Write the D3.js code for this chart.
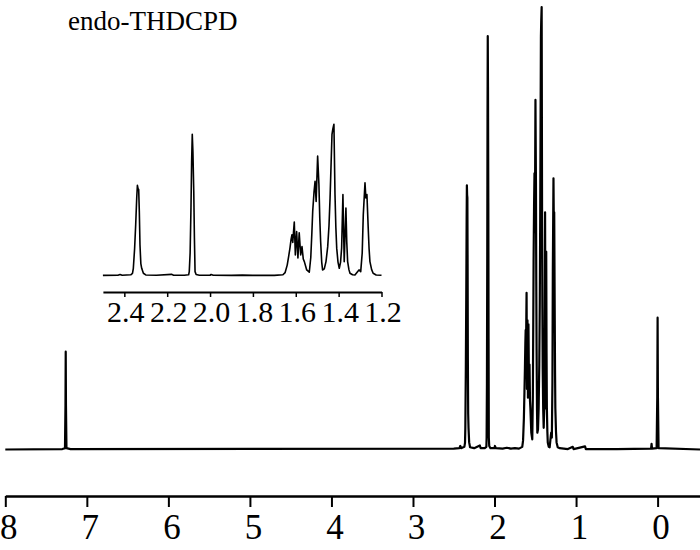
<!DOCTYPE html>
<html>
<head>
<meta charset="utf-8">
<script src="https://cdn.jsdelivr.net/npm/d3@7"></script>
<style>
  body { margin: 0; background: #fff; }
  svg { display: block; }
  .tick line { stroke: #000; }
</style>
</head>
<body>
<div id="chart"></div>
<script>
// chemical shift (ppm) and intensity (% of tallest peak)
var shift = [
  8.0, 7.30, 7.268, 7.262, 7.259, 7.256, 7.25, 7.2,
  2.50, 2.43, 2.42, 2.41, 2.37, 2.362, 2.358, 2.352, 2.347, 2.342, 2.339, 2.336,
  2.333, 2.330, 2.327, 2.323, 2.319, 2.311, 2.30, 2.25, 2.18, 2.17, 2.12, 2.10,
  2.097, 2.093, 2.089, 2.086, 2.083, 2.080, 2.076, 2.073, 2.070, 2.065, 2.05,
  2.0, 1.995, 1.985, 1.9, 1.85, 1.8, 1.75, 1.7, 1.66, 1.65, 1.64, 1.633, 1.627,
  1.622, 1.618, 1.614, 1.610, 1.607, 1.602, 1.596, 1.59, 1.584, 1.577, 1.571,
  1.565, 1.56, 1.549, 1.537, 1.530, 1.525, 1.521, 1.515, 1.51, 1.505, 1.498,
  1.492, 1.488, 1.484, 1.479, 1.475, 1.467, 1.459, 1.451, 1.445, 1.44, 1.435,
  1.431, 1.427, 1.422, 1.417, 1.413, 1.409, 1.403, 1.397, 1.391, 1.386, 1.38,
  1.374, 1.366, 1.362, 1.358, 1.352, 1.347, 1.335, 1.324, 1.31, 1.305, 1.297,
  1.29, 1.285, 1.277, 1.273, 1.268, 1.262, 1.258, 1.254, 1.246, 1.239, 1.225,
  1.20, 1.15, 1.10, 1.04, 1.03, 0.89, 0.88, 0.5, 0.08, 0.074, 0.068, 0.012,
  0.004, 0.0, -0.004, -0.012, -0.52
];
var intensity = [
  0, 0.1, 0.3, 10, 22.1, 10, 0.3, 0.1,
  0.2, 0.3, 0.8, 0.3, 0.6, 1.5, 4.9, 18, 33.6, 52, 59.7, 57.5,
  56.9, 42, 20.4, 8, 4.9, 1.6, 0.5, 0.3, 0.9, 0.3, 0.3, 0.6,
  2.7, 15, 44.9, 75, 93.4, 82, 55.7, 25, 2.7, 0.8, 0.3,
  0.3, 0.8, 0.3, 0.2, 0.4, 0.2, 0.3, 0.2, 0.6, 2, 7, 13, 18.4,
  24, 27.0, 22, 30, 35.4, 13.7, 29.2, 11.7, 28.3, 13.7, 19.2,
  11, 9.3, 3.8, 2.3, 12, 28, 42.5, 55, 62.4, 49.1, 79.0,
  60.2, 38, 22.6, 9, 3.8, 4.5, 9.3, 19.2, 33, 51.4, 75,
  93.4, 97, 100, 53.6, 32, 18.2, 9, 4.9, 9, 18.4, 53.6,
  9.3, 44.7, 22, 9.3, 4, 1.6, 0.6, 0.5, 3, 3.8, 2.7,
  15, 40.3, 61.3, 51.4, 53.6, 31.5, 18, 9.3, 4, 1.6, 0.5,
  0.3, 0.2, 0.1, 0.6, 0.1, 0.7, 0.1, 0.1, 0.2, 1.3, 0.2, 0.3,
  12, 29.8, 12, 0.3, 0
];
var mainTicks = [8, 7, 6, 5, 4, 3, 2, 1, 0];
var insetTicks = [2.4, 2.2, 2.0, 1.8, 1.6, 1.4, 1.2];
var insetRange = [2.5, 1.2];
var title = "endo-THDCPD";

var points = shift.map(function (s, i) {
  return { s: s, v: intensity[i] };
});

var serif = "'Liberation Serif', 'Times New Roman', serif";

var svg = d3
  .select("#chart")
  .append("svg")
  .attr("width", 700)
  .attr("height", 550)
  .style("font-family", serif);

// main spectrum
var x = d3.scaleLinear().domain([8, -0.52]).range([5.3, 700]);
var y = d3.scaleLinear().domain([0, 100]).range([449.5, 7]);

var line = d3
  .line()
  .x(function (d) { return x(d.s); })
  .y(function (d) { return y(d.v); });

svg
  .append("path")
  .datum(points)
  .attr("fill", "none")
  .attr("stroke", "#000")
  .attr("stroke-width", 2.2)
  .attr("stroke-linejoin", "round")
  .attr("d", line);

var axisMain = svg
  .append("g")
  .attr("transform", "translate(0,496)")
  .call(
    d3.axisBottom(x)
      .tickValues(mainTicks)
      .tickSize(11)
      .tickSizeOuter(0)
      .tickFormat(d3.format("d"))
  )
  .attr("font-family", serif);
axisMain.select(".domain").attr("stroke-width", 2.6);
axisMain.selectAll(".tick line").attr("stroke-width", 2);
axisMain
  .selectAll("text")
  .attr("y", 43)
  .attr("dy", 0)
  .attr("dx", 3)
  .attr("fill", "#000")
  .style("font-family", serif)
  .style("font-size", "35px");

// inset, zoomed on 2.5 - 1.2 ppm
var xi = d3.scaleLinear().domain(insetRange).range([102.9, 381.5]);
var yi = d3.scaleLinear().domain([0, 100]).range([275.7, 124.3]);

var insetLine = d3
  .line()
  .x(function (d) { return xi(d.s); })
  .y(function (d) { return yi(d.v); });

svg
  .append("path")
  .datum(points.filter(function (d) {
    return d.s <= insetRange[0] && d.s >= insetRange[1];
  }))
  .attr("fill", "none")
  .attr("stroke", "#000")
  .attr("stroke-width", 1.6)
  .attr("stroke-linejoin", "round")
  .attr("d", insetLine);

var axisInset = svg
  .append("g")
  .attr("transform", "translate(0,292)")
  .call(
    d3.axisBottom(xi)
      .tickValues(insetTicks)
      .tickSize(5)
      .tickSizeOuter(0)
      .tickFormat(d3.format(".1f"))
  )
  .attr("font-family", serif);
axisInset.select(".domain").attr("stroke-width", 1.8);
axisInset.selectAll(".tick line").attr("stroke-width", 1.5);
axisInset
  .selectAll("text")
  .attr("y", 30)
  .attr("dy", 0)
  .attr("dx", 1)
  .attr("fill", "#000")
  .style("font-family", serif)
  .style("font-size", "30px");

// compound label
svg
  .append("text")
  .attr("x", 68)
  .attr("y", 30)
  .style("font-size", "27px")
  .text(title);
</script>
</body>
</html>
